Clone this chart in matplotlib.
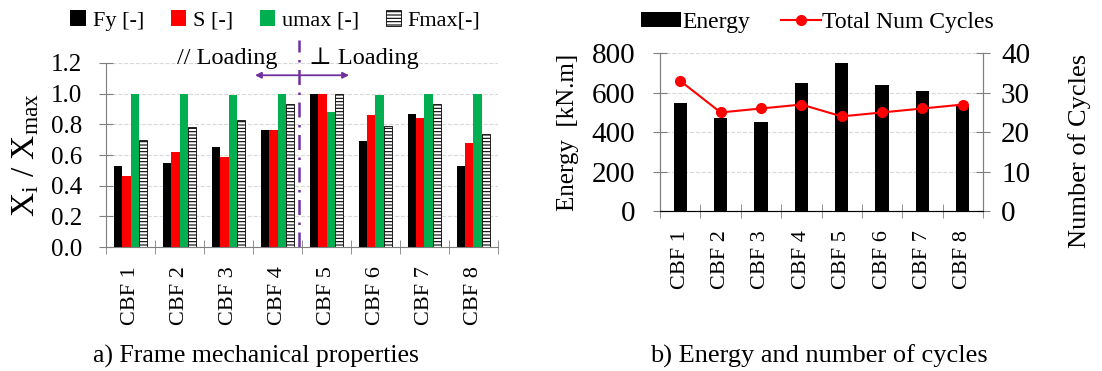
import matplotlib.pyplot as plt
import numpy as np

plt.rcParams['font.family'] = ['Liberation Serif', 'DejaVu Serif']
plt.rcParams['mathtext.fontset'] = 'custom'
plt.rcParams['mathtext.rm'] = 'Liberation Serif'
plt.rcParams['mathtext.it'] = 'Liberation Serif:italic'
plt.rcParams['hatch.linewidth'] = 0.8

frames = ['CBF 1', 'CBF 2', 'CBF 3', 'CBF 4', 'CBF 5', 'CBF 6', 'CBF 7', 'CBF 8']
fy = [0.53, 0.55, 0.65, 0.76, 1.00, 0.69, 0.87, 0.53]
s = [0.46, 0.62, 0.59, 0.76, 1.00, 0.86, 0.84, 0.68]
umax = [1.00, 1.00, 0.99, 1.00, 0.88, 0.99, 1.00, 1.00]
fmax = [0.70, 0.78, 0.83, 0.93, 1.00, 0.79, 0.93, 0.74]

energy = [550, 470, 450, 650, 750, 640, 610, 540]
cycles = [33, 25, 26, 27, 24, 25, 26, 27]

purple = '#7030A0'
green = '#00B050'
grey = '#7f7f7f'

fig = plt.figure(figsize=(11.02, 3.71), dpi=100)

# ---- a) frame mechanical properties
ax1 = fig.add_axes([0.0962, 0.3342, 0.3557, 0.496])
x = np.arange(len(frames))
w = 0.17
ax1.bar(x - 1.5*w, fy, w, color='black', label='Fy [-]')
ax1.bar(x - 0.5*w, s, w, color='red', label='S [-]')
ax1.bar(x + 0.5*w, umax, w, color=green, label='umax [-]')
ax1.bar(x + 1.5*w, fmax, w, color='white', edgecolor='black', linewidth=0.6,
        hatch='-----', label='Fmax[-]')
ax1.set_xlim(-0.5, 7.5)
ax1.set_ylim(0, 1.2)
ax1.set_yticks(np.arange(0, 1.21, 0.2))
ax1.set_yticklabels(['%.1f' % v for v in np.arange(0, 1.21, 0.2)], fontsize=18)
ax1.set_xticks(x)
ax1.set_xticklabels(frames, rotation=90, fontsize=16)
ax1.set_xticks(np.arange(-0.5, 8, 1), minor=True)
ax1.tick_params(axis='x', which='major', length=0, pad=14)
ax1.tick_params(axis='x', which='minor', direction='inout', length=10, color=grey)
ax1.tick_params(axis='y', direction='inout', length=10, color=grey, pad=12)
ax1.yaxis.grid(True, linestyle='--', color='#d9d9d9', linewidth=0.8)
ax1.set_axisbelow(True)
for side in ['top', 'right']:
    ax1.spines[side].set_visible(False)
for side in ['left', 'bottom']:
    ax1.spines[side].set_color(grey)
ax1.set_ylabel(r'X$_\mathrm{i}$ / X$_\mathrm{max}$', fontsize=24, labelpad=7)

ax1.plot([3.44, 3.44], [0, 1.35], color=purple, linestyle=(0, (6, 3, 1, 3)),
         linewidth=1.8, clip_on=False)
ax1.annotate('', xy=(2.54, 1.12), xytext=(4.46, 1.12),
             arrowprops=dict(arrowstyle='<|-|>', color=purple, lw=1.3,
                             mutation_scale=9, shrinkA=0, shrinkB=0),
             annotation_clip=False)
ax1.text(1.97, 1.23, '// Loading', fontsize=17.5, ha='center', va='center')
ax1.text(4.77, 1.23, '\u22a5 Loading', fontsize=17.5, ha='center', va='center')

fig.legend(*ax1.get_legend_handles_labels(), loc='center', bbox_to_anchor=(0.25, 0.945),
           ncol=4, frameon=False, fontsize=16, handlelength=0.7, handleheight=0.7,
           handletextpad=0.3, columnspacing=1.2, borderpad=0)
fig.text(0.232, 0.04, 'a) Frame mechanical properties', fontsize=18.5,
         ha='center', va='center')

# ---- b) energy and number of cycles
ax2 = fig.add_axes([0.599, 0.4313, 0.293, 0.425])
ax2.bar(x, energy, 0.33, color='black', label='Energy')
ax2.set_xlim(-0.5, 7.5)
ax2.set_ylim(0, 800)
ax2.set_yticks(np.arange(0, 801, 200))
ax2.tick_params(axis='y', labelsize=21, direction='inout', length=10, color=grey, pad=13)
ax2.set_xticks(x)
ax2.set_xticklabels(frames, rotation=90, fontsize=16)
ax2.set_xticks(np.arange(-0.5, 8, 1), minor=True)
ax2.tick_params(axis='x', which='major', length=0, pad=14)
ax2.tick_params(axis='x', which='minor', direction='inout', length=10, color=grey)
ax2.yaxis.grid(True, linestyle='--', color='#d9d9d9', linewidth=0.8)
ax2.set_axisbelow(True)
ax2.spines['top'].set_visible(False)
for side in ['left', 'right', 'bottom']:
    ax2.spines[side].set_color(grey)
ax2.set_ylabel('Energy  [kN.m]', fontsize=18, labelpad=9)

ax3 = ax2.twinx()
ax3.plot(x, cycles, color='red', marker='o', markersize=7, linewidth=1.5,
         label='Total Num Cycles')
ax3.set_ylim(0, 40)
ax3.set_yticks(np.arange(0, 41, 10))
ax3.tick_params(axis='y', labelsize=21, direction='inout', length=10, color=grey, pad=8)
ax3.spines['top'].set_visible(False)
ax3.spines['right'].set_color(grey)
ax3.spines['left'].set_color(grey)
ax3.set_ylabel('Number of Cycles', fontsize=19)
ax3.yaxis.set_label_coords(1.263, 0.38)

h1, l1 = ax2.get_legend_handles_labels()
h2, l2 = ax3.get_legend_handles_labels()
fig.legend(h1 + h2, l1 + l2, loc='center', bbox_to_anchor=(0.742, 0.94), ncol=2,
           frameon=False, fontsize=17, handlelength=1.7, handleheight=0.6,
           handletextpad=0.05, columnspacing=1.3, borderpad=0)
fig.text(0.743, 0.04, 'b) Energy and number of cycles', fontsize=19,
         ha='center', va='center')

fig.savefig('out.png', dpi=100)
